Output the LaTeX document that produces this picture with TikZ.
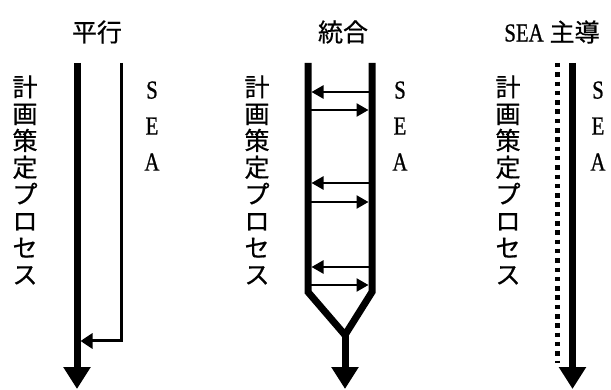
\documentclass[tikz,border=0pt]{standalone}
\usepackage{fontspec}
\setmainfont{Liberation Serif}
\newfontfamily\narrowserif[FakeStretch=0.8,FakeBold=0.8]{Liberation Serif}
\newfontfamily\jp[FakeBold=0.6]{Noto Sans CJK JP}
\usetikzlibrary{arrows.meta}
\begin{document}
\begin{tikzpicture}[x=1pt,y=-1pt,
  mainline/.style={line width=7pt,line join=miter},
  bigarrow/.style={mainline,-{Triangle[length=22pt,width=26pt]}},
  smallarrow/.style={line width=2.5pt,-{Triangle[length=12pt,width=13pt]}},
  sealine/.style={line width=3pt,line join=miter,-{Triangle[length=12pt,width=15pt]}},
  dotline/.style={line width=4.5pt,dash pattern=on 4.5pt off 4.8pt},
  title/.style={inner sep=0pt,font=\jp\fontsize{25}{28}\selectfont},
  vjp/.style={inner sep=0pt,align=center,font=\jp\fontsize{25}{26.8}\selectfont},
  vsea/.style={inner sep=0pt,align=center,font=\narrowserif\fontsize{26}{36}\selectfont}]
\useasboundingbox (0,0) rectangle (611,390);

% Panel 1: parallel
\node[title] (t1) at (97,32) {平行};
\node[vjp] (p1) at (25,180) {計\\画\\策\\定\\プ\\ロ\\セ\\ス};
\node[vsea] (s1) at (152,126) {S\\E\\A};
\coordinate (a1top) at (77,63);
\coordinate (a1bot) at (77,389);
\coordinate (b1top) at (121,63);
\coordinate (b1cor) at (121,341);
\coordinate (b1end) at (80.5,341);
\draw[bigarrow] (a1top) -- (a1bot);
\draw[sealine] (b1top) -- (b1cor) -- (b1end);

% Panel 2: integrated
\node[title] (t2) at (343,32) {統合};
\node[vjp] (p2) at (257,180) {計\\画\\策\\定\\プ\\ロ\\セ\\ス};
\node[vsea] (s2) at (400,126) {S\\E\\A};
\coordinate (lt) at (308,63);
\coordinate (lb) at (308,292);
\coordinate (rt) at (372,63);
\coordinate (rb) at (372,292);
\coordinate (v) at (345,335);
\coordinate (vend) at (345,389);
\draw[mainline] (lt) -- (lb) -- (v) -- (rb) -- (rt);
\draw[bigarrow] (v) -- (vend);
\foreach \yl/\yr in {92/110,183/202,267/285}{
  \coordinate (r\yl) at (372,\yl);
  \coordinate (l\yl) at (311.5,\yl);
  \coordinate (lr\yr) at (308,\yr);
  \coordinate (rr\yr) at (368.5,\yr);
  \draw[smallarrow] (r\yl) -- (l\yl);
  \draw[smallarrow] (lr\yr) -- (rr\yr);
}

% Panel 3: SEA-led
\node[inner sep=0pt] (t3) at (552,32) {{\narrowserif\fontsize{26}{28}\selectfont SEA}\hspace{6pt}{\jp\fontsize{25}{28}\selectfont 主導}};
\node[vjp] (p3) at (508,180) {計\\画\\策\\定\\プ\\ロ\\セ\\ス};
\node[vsea] (s3) at (598,126) {S\\E\\A};
\coordinate (d3top) at (557.5,63);
\coordinate (d3bot) at (557.5,363);
\coordinate (a3top) at (572.5,63);
\coordinate (a3bot) at (572.5,389);
\draw[dotline] (d3top) -- (d3bot);
\draw[bigarrow] (a3top) -- (a3bot);
\end{tikzpicture}
\end{document}
